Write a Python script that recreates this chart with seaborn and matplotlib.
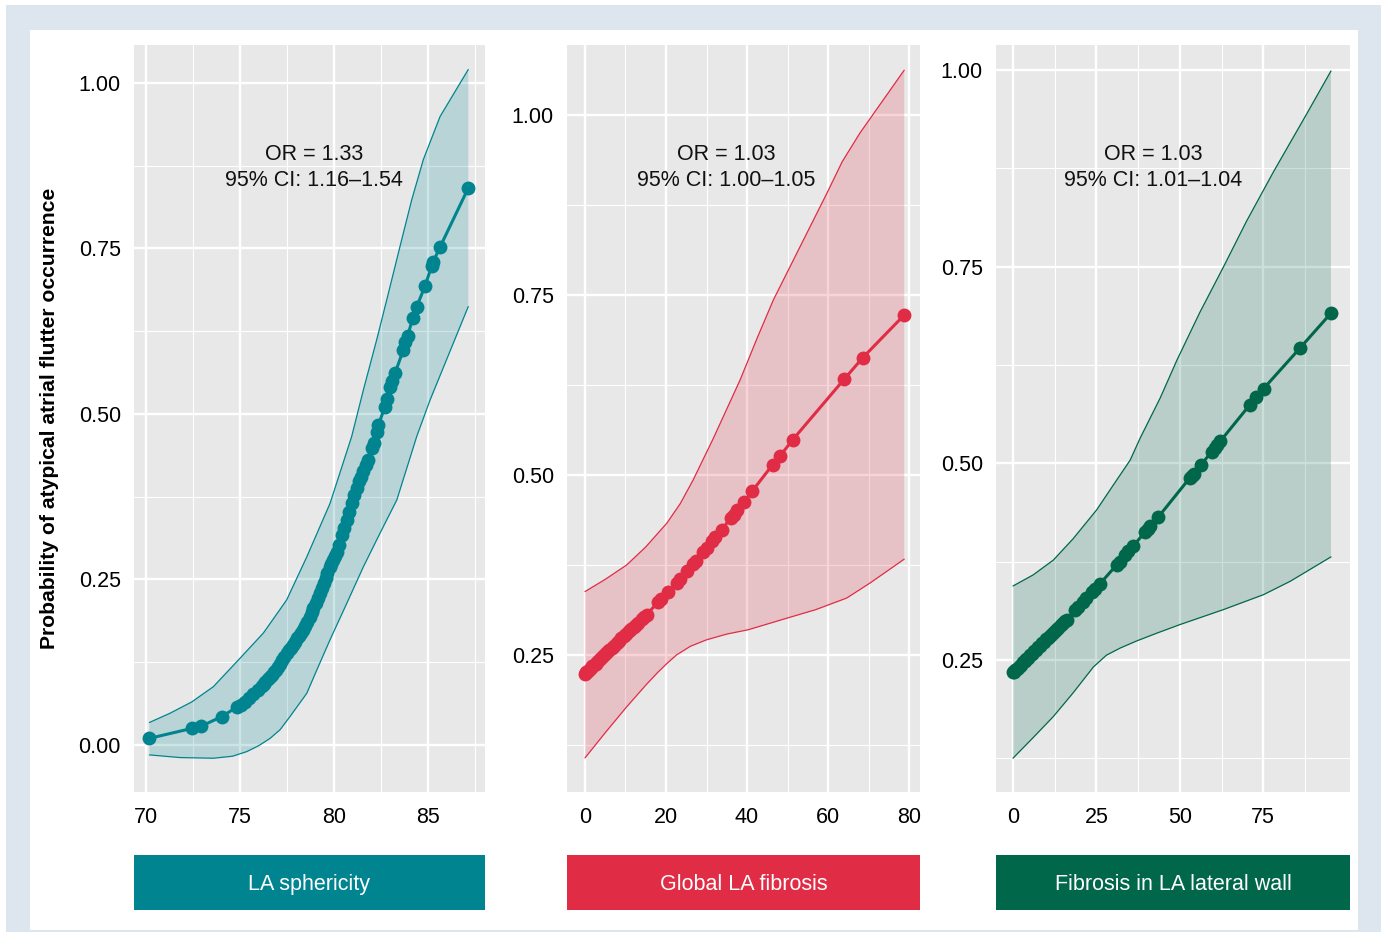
import numpy as np
import pandas as pd
import matplotlib
matplotlib.use("Agg")
import matplotlib.pyplot as plt
from matplotlib.patches import Rectangle
from matplotlib.ticker import FormatStrFormatter, FixedLocator
import seaborn as sns

# ---------------- data ----------------
# Panel 1: LA sphericity
la_x = [70.18, 72.43, 72.91, 74.03, 74.82, 75.05, 75.27, 75.50, 75.71, 75.95, 76.15, 76.25,
        76.35, 76.50, 76.60, 76.70, 76.80, 76.90, 77.04, 77.15, 77.25, 77.35, 77.48, 77.60,
        77.70, 77.80, 77.93, 78.05, 78.15, 78.25, 78.37, 78.45, 78.55, 78.70, 78.81, 78.90,
        79.05, 79.15, 79.25, 79.35, 79.45, 79.55, 79.65, 79.79, 79.85, 79.95, 80.05, 80.14,
        80.25, 80.41, 80.55, 80.68, 80.80, 80.94, 81.08, 81.21, 81.35, 81.45, 81.56, 81.70,
        81.82, 82.01, 82.10, 82.27, 82.36, 82.71, 82.80, 82.98, 83.10, 83.24, 83.69, 83.80,
        83.92, 84.19, 84.40, 84.84, 85.20, 85.28, 85.64, 87.14]
la_p = [0.010, 0.025, 0.028, 0.043, 0.057, 0.061, 0.065, 0.071, 0.077, 0.083, 0.089, 0.092,
        0.095, 0.100, 0.103, 0.106, 0.110, 0.113, 0.118, 0.123, 0.128, 0.133, 0.139, 0.143,
        0.147, 0.151, 0.156, 0.161, 0.165, 0.169, 0.174, 0.180, 0.186, 0.194, 0.201, 0.207,
        0.215, 0.222, 0.230, 0.237, 0.245, 0.252, 0.260, 0.269, 0.273, 0.280, 0.286, 0.292,
        0.302, 0.317, 0.328, 0.340, 0.352, 0.365, 0.377, 0.388, 0.398, 0.405, 0.413, 0.423,
        0.431, 0.448, 0.456, 0.473, 0.483, 0.511, 0.523, 0.541, 0.550, 0.561, 0.597, 0.608,
        0.618, 0.645, 0.662, 0.693, 0.724, 0.730, 0.752, 0.841]
la_up_x = [70.18, 71.28, 72.43, 73.58, 75.00, 76.24, 77.48, 78.55, 79.79, 80.94, 81.56, 82.27,
           82.89, 83.51, 84.13, 84.75, 85.64, 87.14]
la_up_y = [0.034, 0.048, 0.065, 0.088, 0.131, 0.169, 0.219, 0.284, 0.365, 0.466, 0.536, 0.612,
           0.682, 0.753, 0.823, 0.884, 0.949, 1.020]
la_lo_x = [70.18, 71.81, 73.58, 74.60, 75.36, 76.00, 76.60, 77.13, 77.66, 78.55, 79.08, 79.79,
           80.68, 81.56, 82.45, 83.34, 84.40, 85.11, 87.14]
la_lo_y = [-0.015, -0.019, -0.020, -0.017, -0.010, -0.001, 0.010, 0.023, 0.043, 0.078, 0.113,
           0.159, 0.214, 0.269, 0.320, 0.370, 0.466, 0.521, 0.662]

# Panel 2: Global LA fibrosis
gf_x = [0, 0.3, 0.6, 1.0, 1.4, 1.8, 2.2, 2.6, 3.0, 3.5, 4.0, 4.5, 5.0, 5.5, 6.0, 6.6, 7.2, 7.8,
        8.4, 9.0, 9.6, 10.2, 10.8, 11.4, 12.0, 12.6, 13.2, 14.0, 14.6, 15.2, 18.0, 18.8, 20.6,
        22.6, 23.4, 25.1, 26.6, 27.4, 29.2, 30.0, 31.3, 32.2, 33.7, 36.0, 36.8, 37.6, 39.3,
        41.2, 46.3, 48.1, 51.3, 64.0, 68.6, 78.8]
gf_p = [0.224, 0.226, 0.227, 0.229, 0.232, 0.234, 0.236, 0.238, 0.240, 0.243, 0.246, 0.248,
        0.251, 0.254, 0.257, 0.260, 0.263, 0.266, 0.270, 0.273, 0.276, 0.279, 0.283, 0.286,
        0.289, 0.292, 0.295, 0.300, 0.303, 0.306, 0.323, 0.328, 0.338, 0.350, 0.355, 0.366,
        0.376, 0.381, 0.393, 0.399, 0.408, 0.414, 0.424, 0.440, 0.445, 0.451, 0.463, 0.477,
        0.514, 0.526, 0.549, 0.633, 0.663, 0.722]
gf_up_x = [0, 5.0, 10.3, 15.0, 20.2, 23.5, 26.7, 31.7, 38.3, 42.5, 46.5, 53.1, 59.7, 63.5, 67.9, 78.8]
gf_up_y = [0.338, 0.355, 0.375, 0.400, 0.433, 0.460, 0.493, 0.551, 0.632, 0.690, 0.743, 0.817,
           0.891, 0.935, 0.975, 1.062]
gf_lo_x = [0, 5.0, 10.3, 15.0, 18.0, 20.2, 22.6, 26.0, 30.0, 35.0, 40.3, 49.8, 57.0, 64.6, 70.4, 78.8]
gf_lo_y = [0.107, 0.142, 0.178, 0.208, 0.226, 0.238, 0.250, 0.262, 0.271, 0.279, 0.285, 0.301,
           0.313, 0.329, 0.350, 0.383]

# Panel 3: Fibrosis in LA lateral wall
lw_x = [0, 0.3, 0.7, 1.1, 1.5, 2.0, 2.5, 3.0, 3.5, 4.0, 4.6, 5.2, 5.8, 6.4, 7.0, 7.6, 8.2, 8.8,
        9.4, 10.0, 10.6, 11.2, 11.8, 12.4, 13.0, 13.6, 14.3, 15.0, 15.6, 16.1, 18.6, 19.5, 21.1,
        22.0, 23.6, 24.5, 26.1, 31.1, 32.0, 33.6, 34.5, 36.1, 39.6, 40.4, 41.1, 43.6, 52.9, 53.6,
        54.1, 56.3, 59.6, 60.4, 61.2, 62.1, 70.9, 72.9, 75.1, 86.1, 95.3]
lw_p = [0.234, 0.235, 0.237, 0.239, 0.240, 0.242, 0.244, 0.247, 0.249, 0.251, 0.253, 0.256,
        0.258, 0.261, 0.263, 0.266, 0.268, 0.271, 0.273, 0.276, 0.278, 0.281, 0.283, 0.286,
        0.288, 0.291, 0.294, 0.297, 0.299, 0.301, 0.313, 0.317, 0.324, 0.329, 0.336, 0.340,
        0.347, 0.371, 0.375, 0.383, 0.388, 0.395, 0.413, 0.417, 0.420, 0.432, 0.481, 0.484,
        0.487, 0.498, 0.515, 0.519, 0.523, 0.528, 0.574, 0.584, 0.595, 0.647, 0.691]
lw_up_x = [0, 6.0, 12.1, 18.0, 25.1, 30.0, 35.1, 38.1, 44.1, 49.1, 56.0, 63.1, 70.0, 78.1, 88.1, 95.3]
lw_up_y = [0.344, 0.358, 0.377, 0.404, 0.441, 0.472, 0.504, 0.532, 0.583, 0.631, 0.692, 0.750,
           0.808, 0.871, 0.945, 0.999]
lw_lo_x = [0, 6.0, 12.1, 18.0, 24.1, 28.0, 32.1, 37.0, 43.1, 50.1, 63.1, 75.1, 83.1, 95.3]
lw_lo_y = [0.125, 0.151, 0.178, 0.208, 0.241, 0.256, 0.265, 0.274, 0.284, 0.295, 0.314, 0.333,
           0.350, 0.381]

panel_titles = ["LA sphericity", "Global LA fibrosis", "Fibrosis in LA lateral wall"]
annotations = ["OR = 1.33\n95% CI: 1.16\u20131.54",
               "OR = 1.03\n95% CI: 1.00\u20131.05",
               "OR = 1.03\n95% CI: 1.01\u20131.04"]
colors = ["#00848f", "#e02c45", "#00674a"]
x_major = [[70, 75, 80, 85], [0, 20, 40, 60, 80], [0, 25, 50, 75]]
x_minor = [[72.5, 77.5, 82.5, 87.5], [10, 30, 50, 70], [12.5, 37.5, 62.5, 87.5]]
y_major = [[0.0, 0.25, 0.50, 0.75, 1.00], [0.25, 0.50, 0.75, 1.00], [0.25, 0.50, 0.75, 1.00]]
y_minor = [[0.125, 0.375, 0.625, 0.875], [0.125, 0.375, 0.625, 0.875], [0.125, 0.375, 0.625, 0.875]]
xlims = [(69.36, 88.03), (-4.44, 82.7), (-5.1, 101.0)]
ylims = [(-0.071, 1.057), (0.0597, 1.097), (0.082, 1.032)]

series = [
    (la_x, la_p, la_up_x, la_up_y, la_lo_x, la_lo_y),
    (gf_x, gf_p, gf_up_x, gf_up_y, gf_lo_x, gf_lo_y),
    (lw_x, lw_p, lw_up_x, lw_up_y, lw_lo_x, lw_lo_y),
]

# ---------------- figure ----------------
sns.set_theme(style="darkgrid")
plt.rcParams["font.family"] = ["Liberation Sans", "DejaVu Sans"]

W, H = 1386, 932
fig = plt.figure(figsize=(W / 100, H / 100), dpi=100)
fig.patch.set_facecolor("white")
fig.patches.append(Rectangle((6 / W, 0), (1381 - 6) / W, 1 - 5 / H, transform=fig.transFigure,
                             facecolor="#dde6ef", edgecolor="none", zorder=-10))
fig.patches.append(Rectangle((30 / W, 2 / H), (1358 - 30) / W, (930 - 30) / H,
                             transform=fig.transFigure, facecolor="white", edgecolor="none",
                             zorder=-9))

px_l = [134, 567, 996]
px_r = [485, 920, 1350]
ann_xf = [0.513, 0.45, 0.444]

for i in range(3):
    left = px_l[i] / W
    width = (px_r[i] - px_l[i]) / W
    ax = fig.add_axes([left, 1 - 792 / H, width, (792 - 45) / H])
    ax.set_facecolor("#e8e8e8")
    for s in ax.spines.values():
        s.set_visible(False)
    xs, ps, ux, uy, lx, ly = series[i]
    c = colors[i]

    ax.xaxis.set_major_locator(FixedLocator(x_major[i]))
    ax.xaxis.set_minor_locator(FixedLocator(x_minor[i]))
    ax.yaxis.set_major_locator(FixedLocator(y_major[i]))
    ax.yaxis.set_minor_locator(FixedLocator(y_minor[i]))
    ax.grid(which="major", color="white", linewidth=1.7)
    ax.grid(which="minor", color="white", linewidth=0.8)
    ax.set_axisbelow(True)

    # confidence band
    poly_x = list(ux) + list(lx)[::-1]
    poly_y = list(uy) + list(ly)[::-1]
    ax.fill(poly_x, poly_y, color=c, alpha=0.2, linewidth=0, zorder=2)
    sns.lineplot(x=ux, y=uy, ax=ax, color=c, linewidth=0.9, sort=False, zorder=3)
    sns.lineplot(x=lx, y=ly, ax=ax, color=c, linewidth=0.9, sort=False, zorder=3)

    # fitted points
    df = pd.DataFrame({"x": xs, "p": ps})
    sns.lineplot(data=df, x="x", y="p", ax=ax, color=c, linewidth=2.2, sort=False, zorder=4)
    sns.scatterplot(data=df, x="x", y="p", ax=ax, color=c, s=100, linewidth=0, zorder=5)

    ax.set_xlim(*xlims[i])
    ax.set_ylim(*ylims[i])
    ax.set_xlabel("")
    ax.set_ylabel("")
    ax.yaxis.set_major_formatter(FormatStrFormatter("%.2f"))
    ax.tick_params(which="major", length=5, width=1.1, color="black", labelsize=15.5,
                   labelcolor="black", pad=4.5)
    ax.tick_params(axis="x", which="major", pad=6)
    ax.tick_params(which="minor", length=0)
    ax.text(ann_xf[i], 0.836, annotations[i], transform=ax.transAxes, ha="center", va="center",
            fontsize=15.5, color="#111111", linespacing=1.3)

    # label box under panel
    bax = fig.add_axes([left, 1 - 910 / H, width, 55 / H])
    bax.set_facecolor(c)
    bax.set_xticks([])
    bax.set_yticks([])
    for s in bax.spines.values():
        s.set_visible(False)
    bax.text(0.5, 0.47, panel_titles[i], transform=bax.transAxes, ha="center", va="center",
             color="white", fontsize=15.5)

fig.text(50 / W, 1 - 418 / H, "Probability of atypical atrial flutter occurrence", rotation=90,
         ha="center", va="center", fontsize=15.2, fontweight="bold", color="black")

fig.savefig("out.png", dpi=100, facecolor=fig.get_facecolor())
